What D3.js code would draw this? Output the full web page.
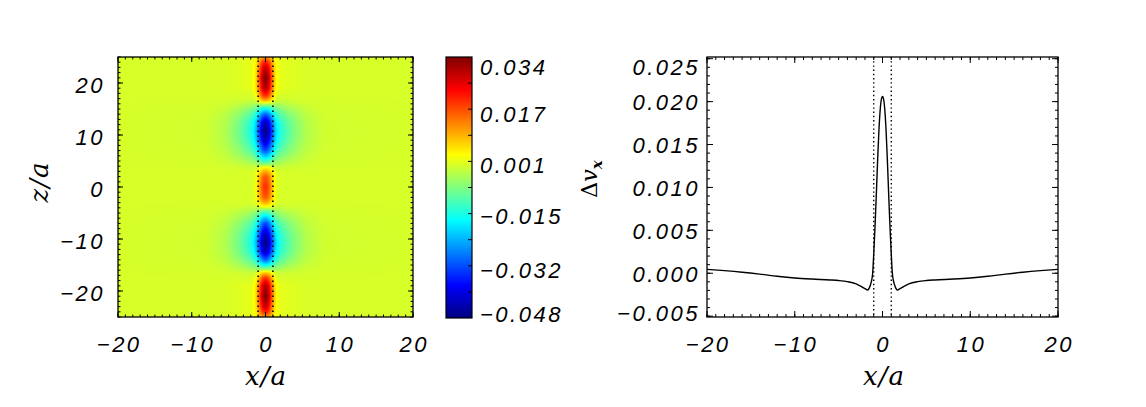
<!DOCTYPE html>
<html><head><meta charset="utf-8">
<script src="https://cdn.jsdelivr.net/npm/d3@7"></script>
<style>
body{margin:0;background:#fff}
svg{display:block}
.tk{font-family:'Liberation Sans',Arial,sans-serif;font-style:italic;font-size:22px;letter-spacing:2.5px;fill:#000}
.ttl{font-family:'DejaVu Serif',serif;font-style:italic;font-size:26px;letter-spacing:1px;fill:#000}
</style>
</head><body>
<svg id="c" width="1146" height="407"></svg>
<script>
// ---------- data ----------
const xTickVals = [-20, -10, 0, 10, 20];
const zTickVals = [-20, -10, 0, 10, 20];
const cbarTickVals = [0.034, 0.017, 0.001, -0.015, -0.032, -0.048];
const cbarRange = [-0.048, 0.034];
const vTickVals = [-0.005, 0.000, 0.005, 0.010, 0.015, 0.020, 0.025];
const boundaryX = [-1, 1];

// line plot (right panel): x/a and Δv_x
const lineX = [-20,-18,-16,-14,-12,-10,-8,-6,-5,-4,-3,-2.5,-2,-1.7,-1.5,-1.3,-1.12,-1.0,-0.85,-0.7,-0.55,-0.4,-0.25,-0.1,0,
               0.1,0.25,0.4,0.55,0.7,0.85,1.0,1.12,1.3,1.5,1.7,2,2.5,3,4,5,6,8,10,12,14,16,18,20];
const lineV = [0.00045,0.0003,0.00012,-0.0001,-0.00035,-0.00055,-0.00068,-0.00078,-0.00085,-0.00098,-0.00125,-0.0015,-0.0018,-0.00195,-0.0017,-0.0011,0.0,0.0022,0.0055,0.0093,0.0133,0.0168,0.0192,0.0204,0.0206,
               0.0204,0.0192,0.0168,0.0133,0.0093,0.0055,0.0022,0.0,-0.0011,-0.0017,-0.00195,-0.0018,-0.0015,-0.00125,-0.00098,-0.00085,-0.00078,-0.00068,-0.00055,-0.00035,-0.0001,0.00012,0.0003,0.00045];

// heat map (left panel): amplitudes along z of the narrow core and the broader halo
const zKnots  = [-25,-24,-23,-21,-19,-17.5,-16.5,-16,-15.2,-14,-12.5,-10.7,-9,-7,-5.5,-4.5,-3.8,-3,-2,0,
                 2,3,3.8,4.5,5.5,7,9,10.7,12.5,14,15.2,16,16.5,17.5,19,21,23,24,25];
const coreAmp = [0.010,0.020,0.026,0.032,0.028,0.020,0.010,0.003,-0.005,-0.013,-0.020,-0.023,-0.020,-0.015,-0.008,-0.003,0.005,0.010,0.017,0.0205,
                 0.017,0.010,0.005,-0.003,-0.008,-0.015,-0.020,-0.023,-0.020,-0.013,-0.005,0.003,0.010,0.020,0.028,0.032,0.026,0.020,0.010];
const haloAmp = [0.002,0.002,0.002,0.002,0.002,0.0,-0.002,-0.005,-0.010,-0.017,-0.023,-0.025,-0.023,-0.017,-0.010,-0.005,-0.002,0,0,0,
                 0,0,-0.002,-0.005,-0.010,-0.017,-0.023,-0.025,-0.023,-0.017,-0.010,-0.005,-0.002,0.0,0.002,0.002,0.002,0.002,0.002];
// profiles across |x|
const coreXKnots = [0, 0.3, 0.6, 0.9, 1.2, 1.5, 2.0, 20];
const coreXShape = [1, 0.92, 0.72, 0.45, 0.2, 0.06, 0, 0];
const haloXKnots = [0, 1, 2, 3, 4, 5.5, 8, 20];
const haloXShape = [1, 0.85, 0.6, 0.42, 0.28, 0.12, 0.02, 0];

// jet colour table
const jetT = [0, 0.125, 0.375, 0.625, 0.875, 1];
const jetC = ['#00007f', '#0000ff', '#00ffff', '#ffff00', '#ff0000', '#7f0000'];

// ---------- layout ----------
const svg = d3.select('#c');
const hm = {l:118, r:413, t:57, b:317};
const cb = {l:446, r:472, t:57, b:318};
const lp = {l:707, r:1058, t:57, b:317};

const xS = d3.scaleLinear().domain([-20, 20]).range([hm.l, hm.r]);
const zS = d3.scaleLinear().domain([-25, 25]).range([hm.b, hm.t]);
const cS = d3.scaleLinear().domain(cbarRange).range([cb.b, cb.t]);
const x2 = d3.scaleLinear().domain([-20, 20]).range([lp.l, lp.r]);
const y2 = d3.scaleLinear().domain([-0.0051, 0.0252]).range([lp.b, lp.t]);

const span = cbarRange[1] - cbarRange[0];
const color = d3.scaleLinear()
  .domain(jetT.map(t => cbarRange[0] + t * span))
  .range(jetC).interpolate(d3.interpolateRgb).clamp(true);

const fmtNum = (v, d) => (v < 0 ? '\u2212' : '') + Math.abs(v).toFixed(d);

// ---------- heat map ----------
const coreZ = d3.scaleLinear().domain(zKnots).range(coreAmp).clamp(true);
const haloZ = d3.scaleLinear().domain(zKnots).range(haloAmp).clamp(true);
const coreX = d3.scaleLinear().domain(coreXKnots).range(coreXShape).clamp(true);
const haloX = d3.scaleLinear().domain(haloXKnots).range(haloXShape).clamp(true);

const cw = hm.r - hm.l, ch = hm.b - hm.t;
const canvas = document.createElement('canvas');
canvas.width = cw; canvas.height = ch;
const ctx = canvas.getContext('2d');
const img = ctx.createImageData(cw, ch);
for (let j = 0; j < ch; j++) {
  const z = zS.invert(hm.t + j + 0.5);
  const cz = coreZ(z), hz = haloZ(z);
  for (let i = 0; i < cw; i++) {
    const ax = Math.abs(xS.invert(hm.l + i + 0.5));
    const v = cz * coreX(ax) + hz * haloX(ax);
    const c = d3.rgb(color(v));
    const k = (j * cw + i) * 4;
    img.data[k] = c.r; img.data[k+1] = c.g; img.data[k+2] = c.b; img.data[k+3] = 255;
  }
}
ctx.putImageData(img, 0, 0);
svg.append('image').attr('x', hm.l).attr('y', hm.t).attr('width', cw).attr('height', ch)
  .attr('preserveAspectRatio', 'none').attr('href', canvas.toDataURL());

// dotted boundaries on heat map
svg.append('g').selectAll('line').data(boundaryX).join('line')
  .attr('x1', d => xS(d)).attr('x2', d => xS(d))
  .attr('y1', zS(-25)).attr('y2', zS(25))
  .attr('stroke', '#000').attr('stroke-width', 1.6).attr('stroke-dasharray', '1.6,3.4');

// ---------- box + ticks helper ----------
function box(b, sx, sy, xMaj, xMin, yMaj, yMin, majLen, minLen) {
  const g = svg.append('g').attr('stroke', '#000').attr('stroke-width', 1);
  const add = (x1, y1, x2_, y2_) => g.append('line').attr('x1', x1).attr('y1', y1).attr('x2', x2_).attr('y2', y2_);
  xMin.forEach(v => { const x = sx(v); add(x, b.b, x, b.b - minLen); add(x, b.t, x, b.t + minLen); });
  xMaj.forEach(v => { const x = sx(v); add(x, b.b, x, b.b - majLen); add(x, b.t, x, b.t + majLen); });
  yMin.forEach(v => { const y = sy(v); add(b.l, y, b.l + minLen, y); add(b.r, y, b.r - minLen, y); });
  yMaj.forEach(v => { const y = sy(v); add(b.l, y, b.l + majLen, y); add(b.r, y, b.r - majLen, y); });
  svg.append('rect').attr('x', b.l).attr('y', b.t).attr('width', b.r - b.l).attr('height', b.b - b.t)
    .attr('fill', 'none').attr('stroke', '#000').attr('stroke-width', 1.3);
}

box(hm, xS, zS, xTickVals, d3.range(-20, 21, 1), zTickVals, d3.range(-25, 26, 1), 5, 2.5);

// heat map tick labels
svg.append('g').selectAll('text').data(xTickVals).join('text').attr('class', 'tk')
  .attr('x', d => xS(d) + 1.2).attr('y', 352).attr('text-anchor', 'middle').text(d => fmtNum(d, 0));
svg.append('g').selectAll('text').data(zTickVals).join('text').attr('class', 'tk')
  .attr('x', 105).attr('y', d => zS(d) + 9.5).attr('text-anchor', 'end').text(d => fmtNum(d, 0));
svg.append('text').attr('class', 'ttl').attr('x', 266).attr('y', 385).attr('text-anchor', 'middle').text('x/a');
svg.append('text').attr('class', 'ttl').attr('transform', 'translate(48,182) rotate(-90)')
  .attr('text-anchor', 'middle').text('z/a');

// ---------- colour bar ----------
const defs = svg.append('defs');
const grad = defs.append('linearGradient').attr('id', 'jet').attr('x1', 0).attr('y1', 1).attr('x2', 0).attr('y2', 0);
grad.selectAll('stop').data(jetT).join('stop')
  .attr('offset', d => d).attr('stop-color', (d, i) => jetC[i]);
svg.append('rect').attr('x', cb.l).attr('y', cb.t).attr('width', cb.r - cb.l).attr('height', cb.b - cb.t)
  .attr('fill', 'url(#jet)').attr('stroke', '#000').attr('stroke-width', 1.2);
const cbMinor = d3.range(1, 10).map(k => cbarRange[0] + k * span / 10);
svg.append('g').selectAll('line').data(cbMinor).join('line')
  .attr('x1', cb.r).attr('x2', cb.r - 4).attr('y1', d => cS(d)).attr('y2', d => cS(d))
  .attr('stroke', '#000').attr('stroke-width', 1);
svg.append('g').selectAll('text').data(cbarTickVals).join('text').attr('class', 'tk')
  .attr('x', 480).attr('y', d => Math.max(67.5, Math.min(314.5, cS(d) + 3)) + 7.8)
  .text(d => fmtNum(d, 3));
const dv = svg.append('text').attr('class', 'ttl').attr('transform', 'translate(597,179) rotate(-90)')
  .attr('text-anchor', 'middle').style('font-size', '22px').style('letter-spacing', '0px');
dv.append('tspan').style('font-style', 'normal').text('\u0394');
dv.append('tspan').text('v');
dv.append('tspan').attr('dy', 5).style('font-size', '15px').style('font-weight', 'bold').text('x');

// ---------- line plot ----------
box(lp, x2, y2, xTickVals, d3.range(-20, 21, 1), vTickVals, d3.range(-0.005, 0.0251, 0.001), 6, 3);

svg.append('g').selectAll('line').data(boundaryX).join('line')
  .attr('x1', d => x2(d)).attr('x2', d => x2(d))
  .attr('y1', lp.t).attr('y2', lp.b)
  .attr('stroke', '#000').attr('stroke-width', 1.4).attr('stroke-dasharray', '1.4,2.8');

const pts = lineX.map((x, i) => [x, lineV[i]]);
svg.append('path').datum(pts)
  .attr('d', d3.line().x(d => x2(d[0])).y(d => y2(d[1])).curve(d3.curveMonotoneX))
  .attr('fill', 'none').attr('stroke', '#000').attr('stroke-width', 1.4);

svg.append('g').selectAll('text').data(xTickVals).join('text').attr('class', 'tk')
  .attr('x', d => x2(d) + 1.2).attr('y', 352).attr('text-anchor', 'middle').text(d => fmtNum(d, 0));
svg.append('g').selectAll('text').data(vTickVals).join('text').attr('class', 'tk')
  .attr('x', 700).attr('y', d => Math.max(67, Math.min(313.5, y2(d) + 1)) + 7.8)
  .attr('text-anchor', 'end').text(d => fmtNum(d, 3));
svg.append('text').attr('class', 'ttl').attr('x', 884).attr('y', 385).attr('text-anchor', 'middle').text('x/a');
</script>
</body></html>
